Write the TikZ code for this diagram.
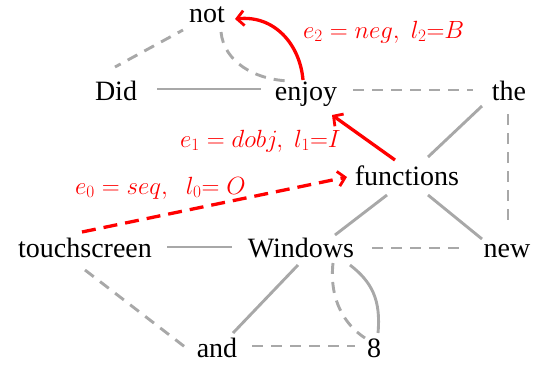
\documentclass[tikz,border=0pt]{standalone}
\usepackage{fontspec}
\setmainfont{Liberation Serif}
\usetikzlibrary{arrows.meta}
\definecolor{edgegray}{RGB}{168,168,168}
\definecolor{arrred}{RGB}{255,0,0}
\tikzset{
  word/.style={anchor=base, inner sep=0pt, font=\fontsize{28}{30}\selectfont},
  lab/.style={anchor=base west, inner sep=0pt, text=arrred, font=\fontsize{23}{26}\selectfont},
  solidedge/.style={draw=edgegray, line width=2.9pt},
  dashedge/.style={draw=edgegray, line width=2.9pt, dash pattern=on 11pt off 8pt},
  redarrow/.style={draw=arrred, line width=3.3pt, -{Straight Barb[length=7pt,width=15pt,line width=2.8pt]}},
  reddash/.style={redarrow, dash pattern=on 14pt off 8pt}
}
\begin{document}
\begin{tikzpicture}[x=1pt,y=-1pt]
\useasboundingbox (0,0) rectangle (538,365);
% words
\node[word] (not) at (207,22) {not};
\node[word] (Did) at (116,100) {Did};
\node[word] (enjoy) at (306,100) {enjoy};
\node[word] (the) at (509,100) {the};
\node[word] (functions) at (407,185) {functions};
\node[word] (touchscreen) at (85,257) {touchscreen};
\node[word] (Windows) at (301,257) {Windows};
\node[word] (new) at (507,257) {new};
\node[word] (and) at (217,357) {and};
\node[word] (eight) at (374,357) {8};
% gray edges
\draw[dashedge, dash phase=5pt] ([shift={(-24,8)}]not.base) -- ([shift={(-1,-33)}]Did.base);
\draw[solidedge] ([shift={(41,-11)}]Did.base) -- ([shift={(-45,-11)}]enjoy.base);
\draw[dashedge] ([shift={(14,10)}]not.base) .. controls (224,62) and (255,80) .. ([shift={(-16,-19)}]enjoy.base);
\draw[dashedge] ([shift={(47,-10)}]enjoy.base) -- ([shift={(-36,-10)}]the.base);
\draw[solidedge] ([shift={(-27,6)}]the.base) -- ([shift={(21,-28)}]functions.base);
\draw[dashedge] ([shift={(-1,14)}]the.base) -- ([shift={(1,-34)}]new.base);
\draw[solidedge] ([shift={(-20,10)}]functions.base) -- ([shift={(34,-22)}]Windows.base);
\draw[solidedge] ([shift={(21,10)}]functions.base) -- ([shift={(-25,-18)}]new.base);
\draw[dashedge] ([shift={(71,-9)}]Windows.base) -- ([shift={(-42,-9)}]new.base);
\draw[solidedge] ([shift={(82,-10)}]touchscreen.base) -- ([shift={(-69,-10)}]Windows.base);
\draw[dashedge] ([shift={(0,13)}]touchscreen.base) -- ([shift={(-32,-10)}]and.base);
\draw[solidedge] ([shift={(16,-24)}]and.base) -- ([shift={(-3,8)}]Windows.base);
\draw[dashedge] ([shift={(35,-11)}]and.base) -- ([shift={(-19,-11)}]eight.base);
\draw[dashedge] ([shift={(32,6)}]Windows.base) .. controls (329,300) and (345,325) .. ([shift={(-9,-19)}]eight.base);
\draw[solidedge] ([shift={(49,8)}]Windows.base) .. controls (372,282) and (381,300) .. ([shift={(4,-24)}]eight.base);
% red arrows
\draw[redarrow] ([shift={(-3,-20)}]enjoy.base) .. controls (300,45) and (275,15) .. ([shift={(28,-3)}]not.base);
\draw[redarrow] ([shift={(-12,-25)}]functions.base) -- ([shift={(26,15)}]enjoy.base);
\draw[reddash] ([shift={(-3,-25)}]touchscreen.base) -- ([shift={(-60,-8)}]functions.base);
% labels
\node[lab] (l2) at (303,38) {$e_2 = neg,\; l_2{=}B$};
\node[lab] (l1) at (180,147) {$e_1 = dobj,\; l_1{=}I$};
\node[lab] (l0) at (75,194) {$e_0 = seq,\;\; l_0{=}\;O$};
\end{tikzpicture}
\end{document}
